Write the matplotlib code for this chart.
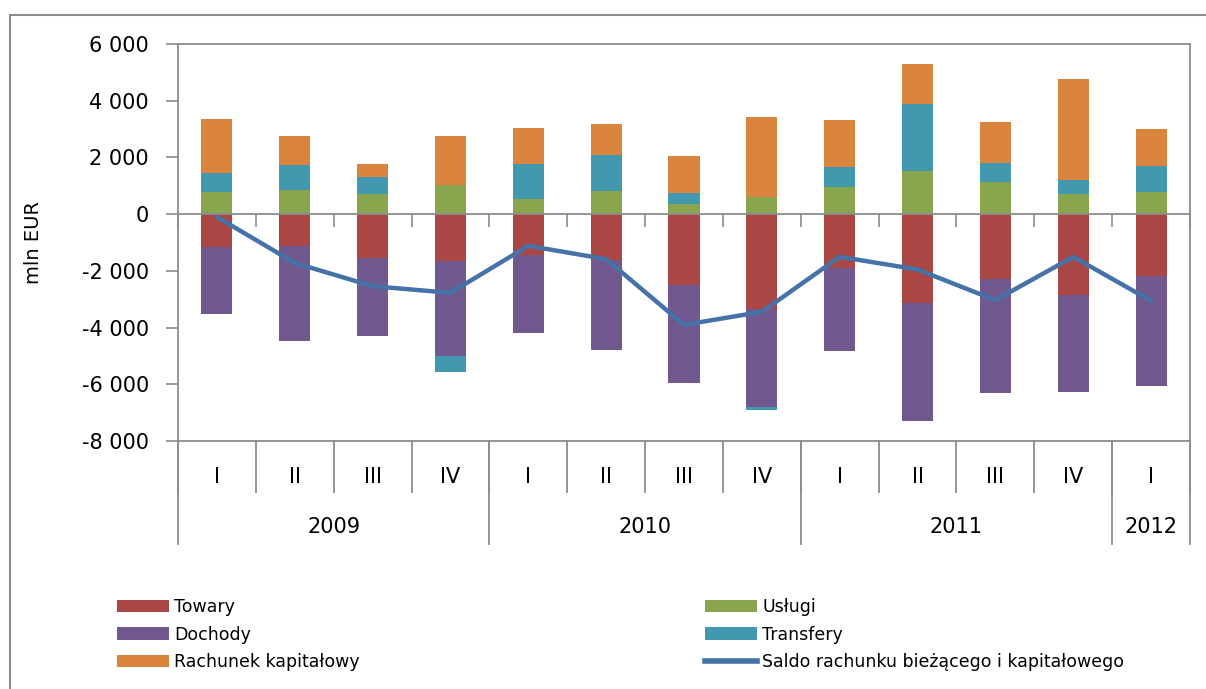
import numpy as np
import matplotlib
matplotlib.use('Agg')
from matplotlib import pyplot as plt
from matplotlib.patches import Patch, Rectangle
from matplotlib.lines import Line2D
from matplotlib.ticker import FuncFormatter
import matplotlib.transforms as mtransforms

# data (mln EUR)
quarters = ['I', 'II', 'III', 'IV', 'I', 'II', 'III', 'IV', 'I', 'II', 'III', 'IV', 'I']
years = ['2009', '2010', '2011', '2012']
year_sizes = [4, 4, 4, 1]

towary = [-1176, -1117, -1552, -1646, -1458, -1623, -2504, -3351, -1905, -3151, -2270, -2834, -2187]
uslugi = [765, 858, 705, 1023, 517, 823, 341, 588, 940, 1517, 1117, 694, 776]
dochody = [-2328, -3363, -2740, -3363, -2728, -3151, -3446, -3457, -2916, -4139, -4033, -3433, -3880]
transfery = [692, 882, 612, -553, 1247, 1270, 388, -106, 706, 2375, 682, 505, 905]
rachunek_kap = [1894, 1011, 435, 1728, 1281, 1070, 1305, 2833, 1670, 1411, 1446, 3575, 1329]
saldo = [-100, -1720, -2540, -2775, -1117, -1587, -3904, -3445, -1505, -1952, -3034, -1505, -3058]

series = [
    ('Towary', towary, '#AA4643'),
    ('Usługi', uslugi, '#89A54E'),
    ('Dochody', dochody, '#71588F'),
    ('Transfery', transfery, '#4198AF'),
    ('Rachunek kapitałowy', rachunek_kap, '#DB843D'),
]
line_color = '#4572A7'
grey = '#8C8C8C'

W, H = 1206, 689
fig = plt.figure(figsize=(W / 100, H / 100), dpi=100)
ax = fig.add_axes([178 / W, 1 - 441 / H, (1190 - 178) / W, (441 - 44) / H])

x = np.arange(len(quarters))
pos_bottom = np.zeros(len(x))
neg_bottom = np.zeros(len(x))
for name, vals, col in series:
    v = np.array(vals, dtype=float)
    bottom = np.where(v >= 0, pos_bottom, neg_bottom)
    ax.bar(x, v, width=0.4, bottom=bottom, color=col, edgecolor='none', zorder=2)
    pos_bottom = pos_bottom + np.where(v > 0, v, 0)
    neg_bottom = neg_bottom + np.where(v < 0, v, 0)

ax.plot(x, saldo, color=line_color, lw=3.2, zorder=3, solid_capstyle='round')

ax.set_xlim(-0.5, len(x) - 0.5)
ax.set_ylim(-8000, 6000)
ax.set_yticks(np.arange(-8000, 6001, 2000))
ax.yaxis.set_major_formatter(FuncFormatter(lambda v, p: f'{int(v):,}'.replace(',', ' ')))
ax.tick_params(axis='y', direction='out', length=9, width=1.2, color=grey,
               labelsize=15, pad=12)

# category axis sits at zero
ax.spines['bottom'].set_position(('data', 0))
ax.set_xticks(np.arange(len(x) + 1) - 0.5)
ax.set_xticklabels([])
ax.tick_params(axis='x', direction='out', length=9, width=1.2, color=grey)
for s in ['left', 'top', 'right', 'bottom']:
    ax.spines[s].set_color(grey)
    ax.spines[s].set_linewidth(1.3)
ax.axhline(-8000, color=grey, lw=1.3, clip_on=False, zorder=1)

ax.set_ylabel('mln EUR', fontsize=14, labelpad=28)

# multi-level category labels under the plot
trans = mtransforms.blended_transform_factory(ax.transData, ax.transAxes)
y_q_line = (441 - 492) / (441 - 44)
y_y_line = (441 - 544) / (441 - 44)
for i, q in enumerate(quarters):
    ax.text(i, (441 - 477) / (441 - 44), q, transform=trans, ha='center', va='center',
            fontsize=15)
for b in range(len(x) + 1):
    ax.plot([b - 0.5, b - 0.5], [0, y_q_line], transform=trans, color=grey, lw=1.3,
            clip_on=False)
start = 0
bounds = [0]
for yr, n in zip(years, year_sizes):
    ax.text(start + (n - 1) / 2, (441 - 527) / (441 - 44), yr, transform=trans,
            ha='center', va='center', fontsize=15)
    start += n
    bounds.append(start)
for b in bounds:
    ax.plot([b - 0.5, b - 0.5], [0, y_y_line], transform=trans, color=grey, lw=1.3,
            clip_on=False)

# outer chart frame
fig.add_artist(Rectangle((10 / W, -0.2), 1.2, 1.2 + (1 - 15 / H) - 1,
                         transform=fig.transFigure, fill=False, edgecolor=grey, lw=1.5))

# legend in two columns
h = {name: Patch(facecolor=col, edgecolor='none') for name, vals, col in series}
line_h = Line2D([], [], color=line_color, lw=4)
leg_kw = dict(frameon=False, fontsize=12.5, handlelength=3.0, handleheight=0.7,
              handletextpad=0.3, labelspacing=0.55, borderpad=0, borderaxespad=0,
              loc='upper left')
leg1 = fig.legend([h['Towary'], h['Dochody'], h['Rachunek kapitałowy']],
                  ['Towary', 'Dochody', 'Rachunek kapitałowy'],
                  bbox_to_anchor=(117 / W, 1 - 598 / H), **leg_kw)
leg2 = fig.legend([h['Usługi'], h['Transfery'], line_h],
                  ['Usługi', 'Transfery', 'Saldo rachunku bieżącego i kapitałowego'],
                  bbox_to_anchor=(705 / W, 1 - 598 / H), **leg_kw)

fig.savefig('out.png', dpi=100)
